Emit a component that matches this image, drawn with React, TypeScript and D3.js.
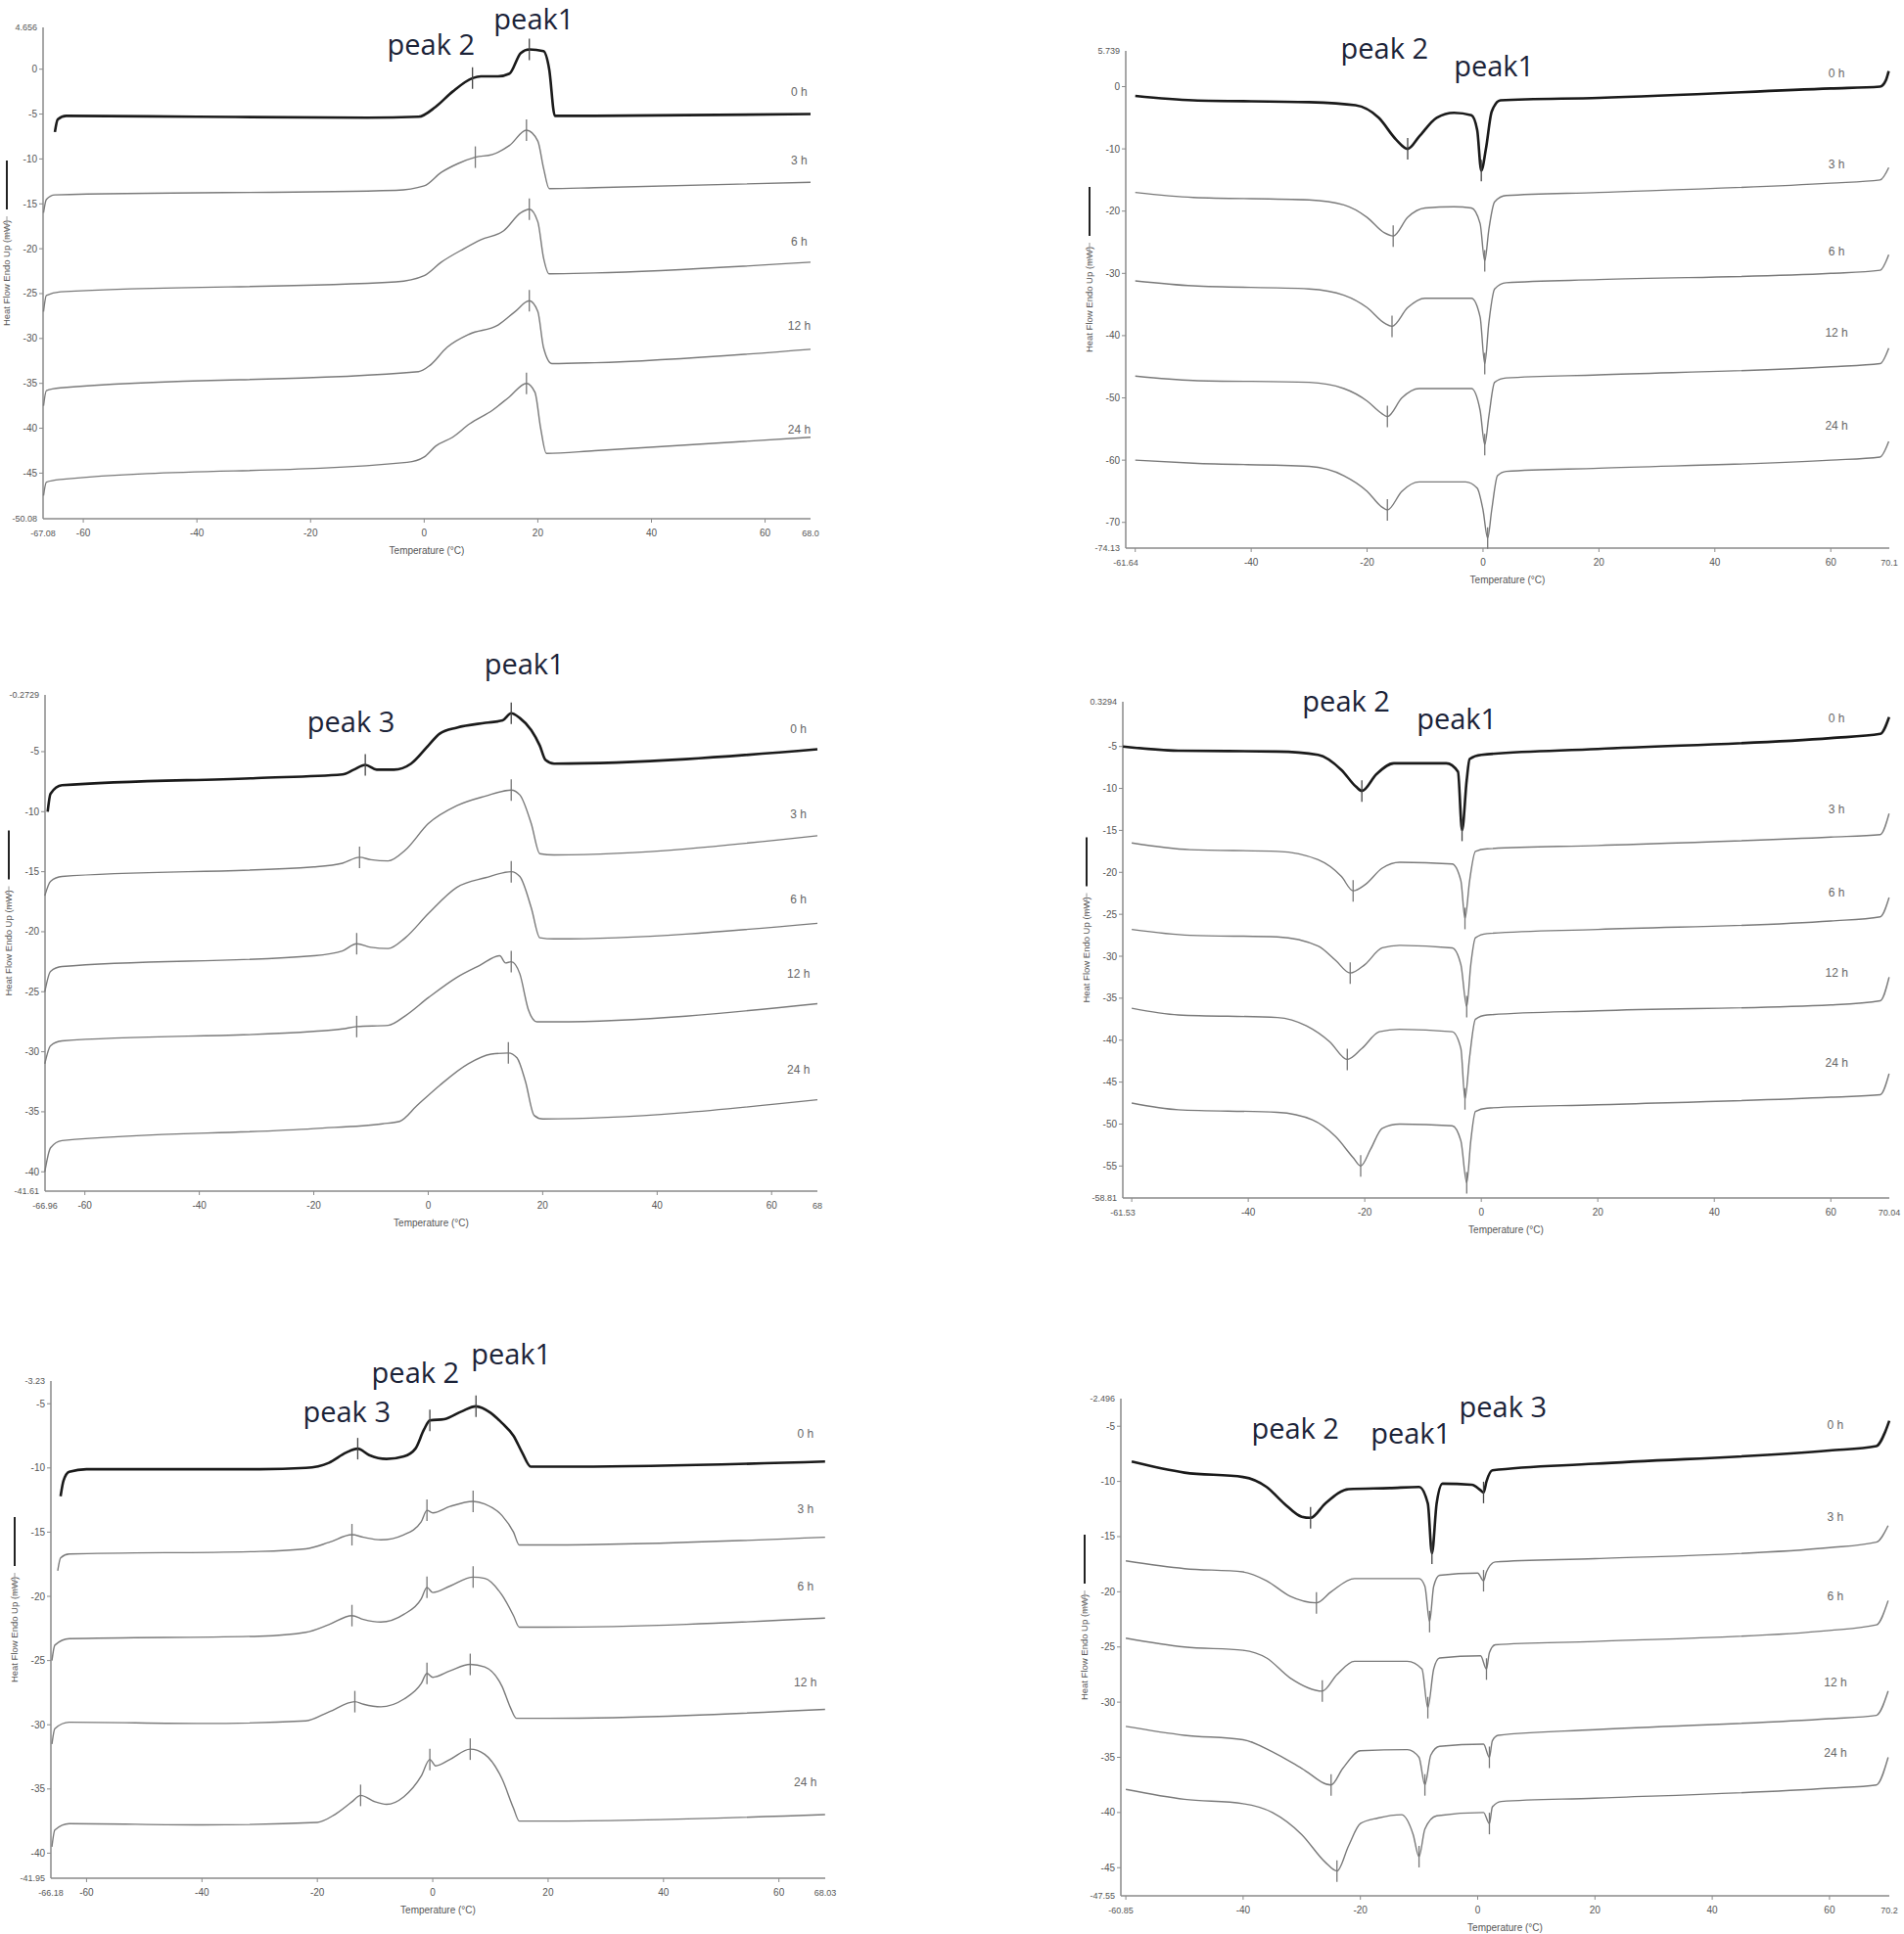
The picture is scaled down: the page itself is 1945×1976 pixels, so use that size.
import * as d3 from 'd3';
import React from 'react';

type Pt = [number, number];

// ---- panel 1 ----
const p1XDomain: [number, number] = [-67.08, 68.0];
const p1YDomain: [number, number] = [-50.08, 4.656];
const p1YTicks = [0, -5, -10, -15, -20, -25, -30, -35, -40, -45];
const p1Curves: Pt[][] = [
  [[-65, -7], [-64.5, -5.6], [-63, -5.2], [-40, -5.3], [-10, -5.4], [-1, -5.3], [2, -4.2], [5, -2.5], [8.5, -1], [10, -0.8], [13, -0.8], [15, -0.5], [17, 1.8], [18.5, 2.2], [21, 2], [22, 0], [23, -5.2], [30, -5.2], [68, -5]],
  [[-67, -16], [-66.5, -14.5], [-65, -14], [-5, -13.5], [0, -13], [3, -11.5], [6, -10.5], [9, -9.8], [12, -9.5], [15, -8.5], [18, -6.8], [20, -8], [21, -11], [22, -13.3], [30, -13.2], [68, -12.6]],
  [[-67, -27], [-66.5, -25.2], [-64, -24.8], [-5, -23.7], [0, -23], [3, -21.5], [7, -20], [10, -19], [14, -18], [17, -16], [18.5, -15.6], [20, -17], [21, -21], [22, -22.8], [30, -22.7], [68, -21.5]],
  [[-67, -37.5], [-66.5, -35.8], [-64, -35.5], [-1, -33.7], [1, -33], [4, -31], [8, -29.5], [13, -28.5], [16, -27], [18.5, -25.8], [20, -27], [21, -31], [22.5, -32.8], [30, -32.7], [68, -31.2]],
  [[-67, -47.5], [-66.5, -46], [-64, -45.7], [-3, -43.8], [0, -43.2], [2, -42], [5, -41], [8, -39.5], [12, -38], [15, -36.5], [18, -35], [19.5, -36], [20.5, -40], [21.5, -42.8], [30, -42.5], [68, -41]],
];
const p1Markers: number[][] = [[8.5, 18.5], [9, 18], [18.5], [18.5], [18]];
const p1LabelY = [-2.5, -10.2, -19.2, -28.6, -40.1];
const p1LabelT = 66;
const p1Peaks: [string, number, number][] = [['peak 2', 1.2, 2.7], ['peak1', 19.3, 5.5]];

// ---- panel 2 ----
const p2XDomain: [number, number] = [-61.64, 70.1];
const p2YDomain: [number, number] = [-74.13, 5.739];
const p2YTicks = [0, -10, -20, -30, -40, -50, -60, -70];
const p2Curves: Pt[][] = [
  [[-60, -1.5], [-50, -2.2], [-30, -2.5], [-22, -3], [-18, -5], [-15, -8.5], [-13, -10], [-11, -8], [-8, -5], [-5, -4.2], [-2, -4.6], [-1, -7], [-0.3, -13.5], [0.5, -10], [1.5, -4], [3, -2.2], [20, -1.8], [60, -0.3], [68.5, 0], [69.5, 1], [70, 2.5]],
  [[-60, -17], [-50, -17.8], [-30, -18.2], [-24, -19], [-20, -21], [-17, -23.5], [-15.5, -24], [-13, -21], [-10, -19.5], [-5, -19.3], [-2, -19.5], [-0.5, -22], [0.3, -28], [1, -23], [2, -18.5], [4, -17.5], [20, -17], [60, -15.5], [68.5, -15], [70, -13]],
  [[-60, -31.2], [-50, -32], [-30, -32.5], [-24, -33.5], [-20, -35.5], [-17, -38], [-15.7, -38.5], [-13, -35.5], [-10, -34], [-2, -34], [-0.5, -37], [0.3, -44.5], [1, -38], [2, -32.5], [4, -31.5], [20, -31], [60, -30], [68.5, -29.5], [70, -27]],
  [[-60, -46.5], [-50, -47.2], [-30, -47.5], [-24, -48.5], [-20, -50.5], [-17.5, -52.5], [-16.5, -53], [-14, -50], [-11, -48.5], [-2, -48.5], [-0.5, -52], [0.3, -57.5], [1, -53], [2, -47.5], [4, -46.8], [20, -46.3], [60, -45], [68.5, -44.5], [70, -42]],
  [[-60, -60], [-50, -60.5], [-30, -61], [-24, -62.5], [-20, -65], [-17.5, -67.5], [-16.5, -68], [-14, -65], [-11, -63.5], [-3, -63.5], [-1, -64.5], [0, -68], [0.8, -72.5], [1.5, -68], [2.5, -62.5], [4, -61.8], [20, -61.3], [60, -60], [68.5, -59.5], [70, -57]],
];
const p2Markers: number[][] = [[-13, -0.3], [-15.5, 0.3], [-15.7, 0.3], [-16.5, 0.3], [-16.5, 0.8]];
const p2LabelY = [2.1, -12.5, -26.5, -39.5, -54.5];
const p2LabelT = 61;
const p2Peaks: [string, number, number][] = [['peak 2', -17.0, 6.05], ['peak1', 1.9, 3.2]];

// ---- panel 3 ----
const p3XDomain: [number, number] = [-66.96, 68];
const p3YDomain: [number, number] = [-41.61, -0.2729];
const p3YTicks = [-5, -10, -15, -20, -25, -30, -35, -40];
const p3Curves: Pt[][] = [
  [[-66.5, -10], [-66, -8.5], [-64, -7.8], [-30, -7.2], [-15, -6.9], [-13, -6.5], [-11, -6.1], [-9, -6.5], [-6, -6.5], [-3, -6], [0, -4.5], [2, -3.5], [5, -3], [10, -2.6], [13, -2.4], [14.5, -1.8], [16, -2.2], [18, -3.2], [19.5, -4.5], [20.5, -5.7], [22, -6], [68, -4.8]],
  [[-67, -17], [-66, -15.8], [-64, -15.4], [-20, -14.6], [-15, -14.3], [-12, -13.8], [-10, -14], [-7, -14.1], [-4, -13.2], [0, -11], [5, -9.5], [10, -8.7], [14.5, -8.2], [16, -8.6], [18, -11], [19.5, -13.5], [22, -13.6], [68, -12]],
  [[-67, -25], [-66, -23.3], [-64, -22.9], [-20, -22], [-15, -21.6], [-12.5, -21], [-10, -21.3], [-7, -21.4], [-4, -20.5], [0, -18.5], [5, -16.3], [10, -15.5], [14.5, -15], [16, -15.4], [18, -18], [19.5, -20.5], [22, -20.6], [68, -19.3]],
  [[-67, -31], [-66, -29.5], [-64, -29.1], [-20, -28.3], [-15, -28.1], [-12.5, -27.9], [-7, -27.8], [-4, -27], [0, -25.5], [5, -23.8], [9, -22.8], [12.5, -22], [13.5, -22.6], [14.5, -22.5], [16, -23.5], [17.5, -26.5], [19, -27.5], [22, -27.5], [68, -26]],
  [[-67, -40], [-66, -38], [-64, -37.4], [-20, -36.4], [-8, -36], [-5, -35.8], [-2, -34.5], [2, -32.8], [7, -31], [11, -30.2], [14, -30.1], [15.5, -30.5], [17, -32.5], [18.5, -35.3], [20, -35.6], [68, -34]],
];
const p3Markers: number[][] = [[-11, 14.5], [-12, 14.5], [-12.5, 14.5], [-12.5, 14.5], [14]];
const p3LabelY = [-3.1, -10.2, -17.3, -23.5, -31.5];
const p3LabelT = 64.7;
const p3Peaks: [string, number, number][] = [['peak 3', -13.5, -2.55], ['peak1', 16.8, 2.25]];

// ---- panel 4 ----
const p4XDomain: [number, number] = [-61.53, 70.04];
const p4YDomain: [number, number] = [-58.81, 0.3294];
const p4YTicks = [-5, -10, -15, -20, -25, -30, -35, -40, -45, -50, -55];
const p4Curves: Pt[][] = [
  [[-61.5, -5], [-52, -5.5], [-35, -5.6], [-28, -6], [-24, -7.8], [-21.5, -9.8], [-20.5, -10.3], [-18, -8.3], [-15, -7], [-6, -7], [-4, -8], [-3.3, -15], [-2.5, -9], [-2, -6.5], [0, -6], [20, -5.3], [60, -4], [68.5, -3.5], [70, -1.5]],
  [[-60, -16.5], [-50, -17.3], [-35, -17.5], [-28, -18.5], [-24, -20.5], [-22, -22.2], [-20, -21.5], [-17, -19.5], [-14, -18.8], [-5, -19], [-3.5, -21], [-2.8, -25.5], [-2, -21], [-1, -17.5], [1, -17.2], [20, -16.8], [60, -15.8], [68.5, -15.5], [70, -13]],
  [[-60, -26.8], [-50, -27.5], [-35, -27.7], [-28, -28.8], [-25, -30.5], [-22.5, -32], [-20, -31], [-17, -29], [-14, -28.7], [-5, -29], [-3.5, -31], [-2.5, -36], [-1.8, -31], [-1, -27.8], [1, -27.3], [20, -26.8], [60, -25.8], [68.5, -25.3], [70, -23]],
  [[-60, -36.2], [-52, -37], [-35, -37.3], [-30, -38.3], [-26, -40.2], [-23, -42.3], [-20.5, -41], [-17.5, -39], [-14, -38.7], [-5, -39], [-3.5, -41], [-2.8, -47], [-2, -42], [-1, -37.5], [1, -37], [20, -36.5], [60, -35.8], [68.5, -35.3], [70, -32.5]],
  [[-60, -47.5], [-52, -48.3], [-35, -48.6], [-29, -49.5], [-25, -51.5], [-22, -54], [-20.7, -55], [-19, -53], [-17, -50.5], [-14, -50], [-5, -50.2], [-3.5, -52], [-2.5, -57], [-1.8, -52], [-1, -48.5], [1, -48.1], [20, -47.7], [60, -46.8], [68.5, -46.5], [70, -44]],
];
const p4Markers: number[][] = [[-20.5, -3.3], [-22, -2.8], [-22.5, -2.5], [-23, -2.8], [-20.7, -2.5]];
const p4LabelY = [-1.65, -12.5, -22.4, -32.0, -42.7];
const p4LabelT = 61;
const p4Peaks: [string, number, number][] = [['peak 2', -23.2, 0.33], ['peak1', -4.2, -1.77]];

// ---- panel 5 ----
const p5XDomain: [number, number] = [-66.18, 68.03];
const p5YDomain: [number, number] = [-41.95, -3.23];
const p5YTicks = [-5, -10, -15, -20, -25, -30, -35, -40];
const p5Curves: Pt[][] = [
  [[-64.5, -12.2], [-64, -11], [-63, -10.3], [-60, -10.1], [-30, -10.1], [-22, -10], [-18, -9.6], [-15, -8.8], [-13, -8.5], [-11, -9], [-8, -9.3], [-5, -9.1], [-3, -8.5], [-1.5, -7], [-0.5, -6.3], [2, -6.2], [5, -5.6], [7.5, -5.2], [10, -5.7], [12, -6.5], [14, -7.5], [15.5, -8.8], [17, -9.9], [25, -9.9], [68, -9.5]],
  [[-65, -18], [-64.5, -17], [-63, -16.7], [-30, -16.5], [-22, -16.3], [-18, -15.8], [-14, -15.2], [-12, -15.4], [-9, -15.6], [-5, -15.2], [-2, -14.2], [-1, -13.3], [0, -13.5], [3, -13], [7, -12.6], [9, -12.8], [12, -13.7], [14, -15], [15, -16], [20, -16], [68, -15.4]],
  [[-66, -25], [-65.5, -23.8], [-63, -23.3], [-30, -23.1], [-22, -22.8], [-18, -22.2], [-14, -21.5], [-12, -21.8], [-9, -22], [-5, -21.4], [-2, -20.2], [-1, -19.3], [0, -19.7], [3, -19.2], [7, -18.5], [9, -18.6], [12, -19.9], [14, -21.5], [15, -22.4], [20, -22.4], [68, -21.7]],
  [[-66, -31.5], [-65.5, -30.3], [-63, -29.8], [-40, -29.9], [-22, -29.7], [-18, -29], [-13.5, -28.2], [-12, -28.4], [-9, -28.6], [-5, -28], [-2, -26.8], [-1, -26], [0, -26.3], [3, -25.8], [6.5, -25.3], [9, -25.5], [12, -27], [13.5, -28.7], [14.5, -29.5], [20, -29.5], [68, -28.8]],
  [[-66, -39.5], [-65.5, -38.2], [-63, -37.7], [-40, -37.8], [-20, -37.6], [-17, -37], [-14, -36], [-12.5, -35.5], [-10, -36], [-8, -36.2], [-5, -35.6], [-2, -34], [-0.5, -32.7], [0.5, -33.2], [3, -32.7], [6.5, -31.9], [9, -32.3], [12, -34.2], [14, -36.5], [15, -37.5], [20, -37.5], [68, -37]],
];
const p5Markers: number[][] = [[-13, -0.5, 7.5], [-14, -1, 7], [-14, -1, 7], [-13.5, -1, 6.5], [-12.5, -0.5, 6.5]];
const p5LabelY = [-7.3, -13.2, -19.2, -26.7, -34.5];
const p5LabelT = 64.6;
const p5Peaks: [string, number, number][] = [['peak 3', -14.9, -5.67], ['peak 2', -3.0, -2.62], ['peak1', 13.6, -1.17]];

// ---- panel 6 ----
const p6XDomain: [number, number] = [-60.85, 70.2];
const p6YDomain: [number, number] = [-47.55, -2.496];
const p6YTicks = [-5, -10, -15, -20, -25, -30, -35, -40, -45];
const p6Curves: Pt[][] = [
  [[-59, -8.2], [-50, -9.2], [-40, -9.6], [-36, -10.5], [-33, -12], [-30, -13.2], [-28.5, -13.3], [-26, -12], [-22, -10.7], [-15, -10.6], [-10, -10.5], [-8.5, -12], [-7.8, -16.5], [-7, -12], [-6, -10.2], [-1, -10.3], [0.5, -10.8], [1, -11], [1.5, -10], [2.5, -9], [20, -8.4], [60, -7.2], [68, -6.8], [69.5, -5.5], [70.2, -4.5]],
  [[-60, -17.2], [-50, -17.9], [-40, -18.2], [-36, -19], [-32, -20.4], [-27.5, -21], [-25, -20], [-21, -18.8], [-10, -18.8], [-9, -19.5], [-8.2, -22.7], [-7.5, -19.5], [-6.5, -18.5], [0, -18.3], [1, -19], [1.5, -18.2], [3, -17.3], [20, -17], [60, -16], [68, -15.5], [70, -14]],
  [[-60, -24.2], [-50, -25], [-40, -25.3], [-36, -26], [-32, -27.8], [-26.5, -29], [-24, -27.5], [-21, -26.3], [-12, -26.3], [-9.5, -27], [-8.5, -30.5], [-7.5, -27], [-6.5, -26], [0.5, -25.8], [1.5, -27], [2, -25.5], [3, -24.8], [20, -24.5], [60, -23.5], [68, -23], [70, -20.8]],
  [[-60, -32.2], [-50, -33], [-40, -33.4], [-35, -34.5], [-30, -36], [-25, -37.5], [-23, -36], [-20, -34.4], [-12, -34.3], [-10, -35], [-9, -37.5], [-8, -34.8], [-6.5, -34], [1, -33.8], [2, -35], [2.5, -33.5], [3.5, -33], [20, -32.5], [60, -31.5], [68, -31.2], [70, -29]],
  [[-60, -37.9], [-50, -38.8], [-40, -39.2], [-35, -40], [-30, -42], [-26, -44.5], [-24, -45.3], [-22, -43], [-20, -41], [-17, -40.5], [-13, -40.2], [-11, -42], [-10, -44], [-9, -41.5], [-7, -40.3], [1, -40], [2, -41], [2.5, -39.5], [4, -39], [20, -38.7], [60, -37.8], [68, -37.5], [70, -35]],
];
const p6Markers: number[][] = [[-28.5, -7.8, 1], [-27.5, -8.2, 1], [-26.5, -8.5, 1.5], [-25, -9, 2], [-24, -10, 2]];
const p6LabelY = [-4.9, -13.2, -20.4, -28.2, -34.6];
const p6LabelT = 61;
const p6Peaks: [string, number, number][] = [['peak 2', -31.1, -5.24], ['peak1', -11.4, -5.69], ['peak 3', 4.3, -3.29]];

const hourLabels = ['0 h', '3 h', '6 h', '12 h', '24 h'];
const xTicks = [-60, -40, -20, 0, 20, 40, 60];

interface PanelProps {
  box: [number, number, number, number]; // left, top, right, bottom
  xDomain: [number, number];
  yDomain: [number, number];
  yTicks: number[];
  curves: Pt[][];
  markers: number[][];
  labelY: number[];
  labelT: number;
  peaks: [string, number, number][];
  xEndLabels: [string, string];
  yEndLabels: [string, string];
}

const tickFont = '"Liberation Sans Narrow", "Liberation Sans", Arial, sans-serif';
const axisColor = '#8a8a8a';

function valueAt(pts: Pt[], t: number) {
  const i = d3.bisector((p: Pt) => p[0]).left(pts, t);
  if (i <= 0) return pts[0][1];
  if (i >= pts.length) return pts[pts.length - 1][1];
  const [x0, y0] = pts[i - 1];
  const [x1, y1] = pts[i];
  return y0 + ((t - x0) / (x1 - x0)) * (y1 - y0);
}

function Panel(p: PanelProps) {
  const [l, t, r, b] = p.box;
  const x = d3.scaleLinear().domain(p.xDomain).range([l, r]);
  const y = d3.scaleLinear().domain(p.yDomain).range([b, t]);
  const line = d3.line<Pt>().x(d => x(d[0])).y(d => y(d[1])).curve(d3.curveMonotoneX);
  const midY = (t + b) / 2;
  return (
    <g>
      {/* axes */}
      <line x1={l} x2={l} y1={t} y2={b} stroke={axisColor} strokeWidth={1.5} />
      <line x1={l} x2={r} y1={b} y2={b} stroke={axisColor} strokeWidth={1.5} />
      {p.yTicks.map(v => (
        <g key={'y' + v}>
          <line x1={l - 4} x2={l} y1={y(v)} y2={y(v)} stroke={axisColor} />
          <text x={l - 6} y={y(v)} dy="0.35em" textAnchor="end" fontSize={10} fill="#555" fontFamily={tickFont}>{v}</text>
        </g>
      ))}
      <text x={l - 6} y={t} dy="0.35em" textAnchor="end" fontSize={9} fill="#555" fontFamily={tickFont}>{p.yEndLabels[1]}</text>
      <text x={l - 6} y={b} dy="0.35em" textAnchor="end" fontSize={9} fill="#555" fontFamily={tickFont}>{p.yEndLabels[0]}</text>
      {xTicks.map(v => (
        <g key={'x' + v}>
          <line x1={x(v)} x2={x(v)} y1={b} y2={b + 4} stroke={axisColor} />
          {x(v) - l > 24 && (
            <text x={x(v)} y={b + 18} textAnchor="middle" fontSize={10} fill="#555" fontFamily={tickFont}>{v}</text>
          )}
        </g>
      ))}
      <text x={l} y={b + 18} textAnchor="middle" fontSize={9} fill="#555" fontFamily={tickFont}>{p.xEndLabels[0]}</text>
      <text x={r} y={b + 18} textAnchor="middle" fontSize={9} fill="#555" fontFamily={tickFont}>{p.xEndLabels[1]}</text>
      <text x={(l + r) / 2} y={b + 36} textAnchor="middle" fontSize={10} fill="#555" fontFamily={tickFont}>Temperature (°C)</text>
      {/* y title and scale bar */}
      <text transform={`translate(${l - 34},${midY}) rotate(-90)`} textAnchor="middle" fontSize={9.5} fill="#555" fontFamily={tickFont}>Heat Flow Endo Up (mW)</text>
      <line x1={l - 37} x2={l - 37} y1={midY - 115} y2={midY - 65} stroke="#222" strokeWidth={2} />
      <line x1={l - 37} x2={l - 37} y1={midY - 58} y2={midY - 35} stroke="#999" strokeWidth={1} />
      {/* curves */}
      {p.curves.map((c, i) => (
        <path key={'c' + i} d={line(c) || ''} fill="none" stroke={i === 0 ? '#1a1a1a' : '#7a7a7a'} strokeWidth={i === 0 ? 2.6 : 1.4} />
      ))}
      {p.markers.map((ms, i) => ms.map(m => (
        <line key={'m' + i + '_' + m} x1={x(m)} x2={x(m)} y1={y(valueAt(p.curves[i], m)) - 11} y2={y(valueAt(p.curves[i], m)) + 11} stroke={i === 0 ? '#444' : '#777'} strokeWidth={1.3} />
      )))}
      {p.labelY.map((v, i) => (
        <text key={'h' + i} x={x(p.labelT)} y={y(v)} dy="0.35em" textAnchor="middle" fontSize={12} fill="#666" fontFamily={tickFont}>{hourLabels[i]}</text>
      ))}
      {p.peaks.map(([s, pt, pv]) => (
        <text key={s} x={x(pt)} y={y(pv)} dy="0.35em" textAnchor="middle" fontSize={29} fill="#1b2338" fontFamily='"Open Sans", "Noto Sans", sans-serif'>{s}</text>
      ))}
    </g>
  );
}

export default function App() {
  return (
    <div>
      <style>{'body{margin:0;background:#fff}'}</style>
      <svg width={1945} height={1976} style={{ display: 'block' }}>
        <rect width={1945} height={1976} fill="#fff" />
        <Panel box={[44, 28, 828, 530]} xDomain={p1XDomain} yDomain={p1YDomain} yTicks={p1YTicks} curves={p1Curves} markers={p1Markers} labelY={p1LabelY} labelT={p1LabelT} peaks={p1Peaks} xEndLabels={['-67.08', '68.0']} yEndLabels={['-50.08', '4.656']} />
        <Panel box={[1150, 52, 1930, 560]} xDomain={p2XDomain} yDomain={p2YDomain} yTicks={p2YTicks} curves={p2Curves} markers={p2Markers} labelY={p2LabelY} labelT={p2LabelT} peaks={p2Peaks} xEndLabels={['-61.64', '70.1']} yEndLabels={['-74.13', '5.739']} />
        <Panel box={[46, 710, 835, 1217]} xDomain={p3XDomain} yDomain={p3YDomain} yTicks={p3YTicks} curves={p3Curves} markers={p3Markers} labelY={p3LabelY} labelT={p3LabelT} peaks={p3Peaks} xEndLabels={['-66.96', '68']} yEndLabels={['-41.61', '-0.2729']} />
        <Panel box={[1147, 717, 1930, 1224]} xDomain={p4XDomain} yDomain={p4YDomain} yTicks={p4YTicks} curves={p4Curves} markers={p4Markers} labelY={p4LabelY} labelT={p4LabelT} peaks={p4Peaks} xEndLabels={['-61.53', '70.04']} yEndLabels={['-58.81', '0.3294']} />
        <Panel box={[52, 1411, 843, 1919]} xDomain={p5XDomain} yDomain={p5YDomain} yTicks={p5YTicks} curves={p5Curves} markers={p5Markers} labelY={p5LabelY} labelT={p5LabelT} peaks={p5Peaks} xEndLabels={['-66.18', '68.03']} yEndLabels={['-41.95', '-3.23']} />
        <Panel box={[1145, 1429, 1930, 1937]} xDomain={p6XDomain} yDomain={p6YDomain} yTicks={p6YTicks} curves={p6Curves} markers={p6Markers} labelY={p6LabelY} labelT={p6LabelT} peaks={p6Peaks} xEndLabels={['-60.85', '70.2']} yEndLabels={['-47.55', '-2.496']} />
      </svg>
    </div>
  );
}
